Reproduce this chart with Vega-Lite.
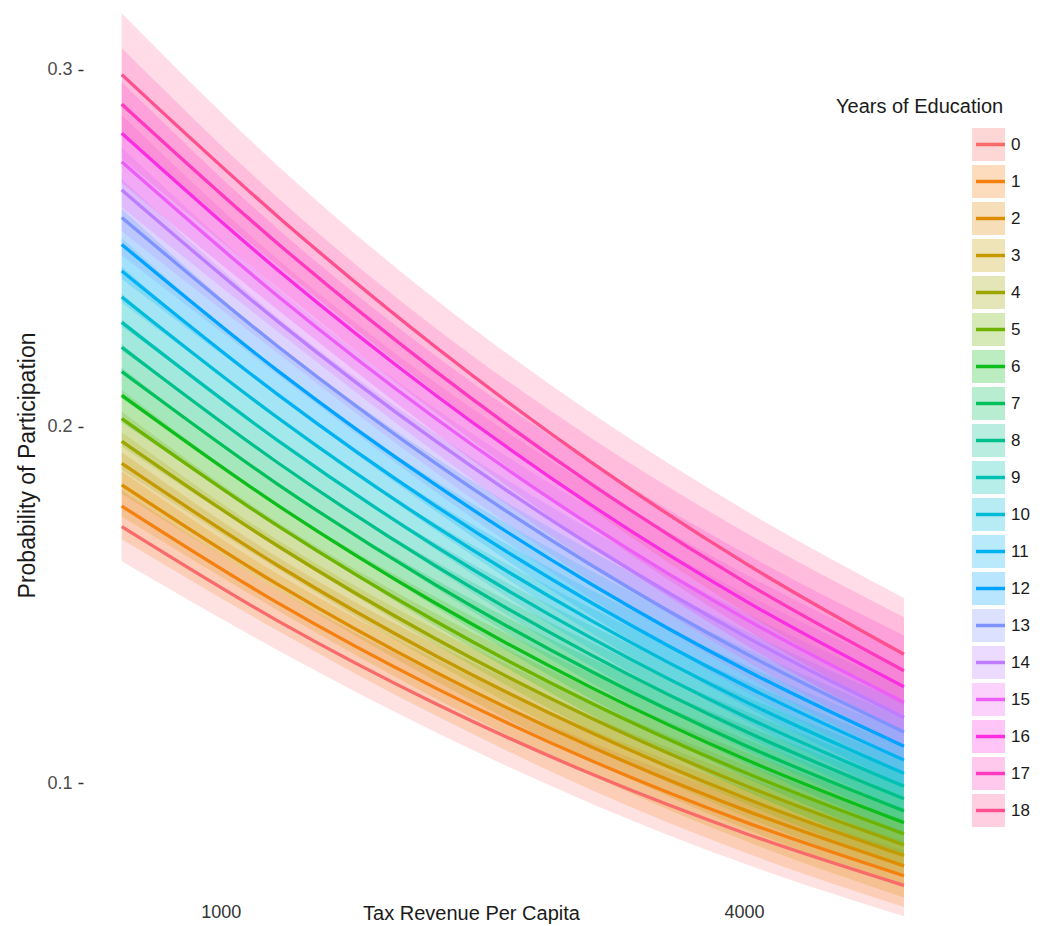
{
  "$schema": "https://vega.github.io/schema/vega-lite/v6.json",
  "width": 900,
  "height": 926,
  "autosize": {"type": "none"},
  "padding": {"left": 83, "top": 0, "right": 72, "bottom": 0},
  "background": "white",
  "config": {"view": {"stroke": null}, "font": "Liberation Sans"},
  "data": {"values": [
    {"t":433,"edu":0,"p":0.17195,"lo":0.16222,"hi":0.18214},{"t":1330,"edu":0,"p":0.14546,"lo":0.13724,"hi":0.15408},{"t":2227,"edu":0,"p":0.12245,"lo":0.11445,"hi":0.13093},{"t":3123,"edu":0,"p":0.10265,"lo":0.09435,"hi":0.11159},{"t":4020,"edu":0,"p":0.08573,"lo":0.07714,"hi":0.09518},{"t":4917,"edu":0,"p":0.07138,"lo":0.06272,"hi":0.08114},
    {"t":433,"edu":1,"p":0.1777,"lo":0.16841,"hi":0.18739},{"t":1330,"edu":1,"p":0.15049,"lo":0.14272,"hi":0.1586},{"t":2227,"edu":1,"p":0.12681,"lo":0.11911,"hi":0.13493},{"t":3123,"edu":1,"p":0.10638,"lo":0.09821,"hi":0.11515},{"t":4020,"edu":1,"p":0.08891,"lo":0.08032,"hi":0.09832},{"t":4917,"edu":1,"p":0.07407,"lo":0.06531,"hi":0.08391},
    {"t":433,"edu":2,"p":0.18361,"lo":0.17475,"hi":0.19281},{"t":1330,"edu":2,"p":0.15567,"lo":0.14836,"hi":0.16328},{"t":2227,"edu":2,"p":0.13129,"lo":0.1239,"hi":0.13905},{"t":3123,"edu":2,"p":0.11024,"lo":0.1022,"hi":0.11884},{"t":4020,"edu":2,"p":0.0922,"lo":0.0836,"hi":0.1016},{"t":4917,"edu":2,"p":0.07686,"lo":0.068,"hi":0.08678},
    {"t":433,"edu":3,"p":0.18966,"lo":0.18121,"hi":0.19841},{"t":1330,"edu":3,"p":0.16098,"lo":0.15411,"hi":0.16809},{"t":2227,"edu":3,"p":0.13591,"lo":0.12882,"hi":0.14332},{"t":3123,"edu":3,"p":0.11421,"lo":0.10629,"hi":0.12265},{"t":4020,"edu":3,"p":0.09559,"lo":0.08696,"hi":0.10498},{"t":4917,"edu":3,"p":0.07974,"lo":0.07075,"hi":0.08977},
    {"t":433,"edu":4,"p":0.19587,"lo":0.18778,"hi":0.20422},{"t":1330,"edu":4,"p":0.16644,"lo":0.16,"hi":0.17308},{"t":2227,"edu":4,"p":0.14066,"lo":0.13385,"hi":0.14775},{"t":3123,"edu":4,"p":0.11831,"lo":0.11048,"hi":0.12662},{"t":4020,"edu":4,"p":0.0991,"lo":0.09043,"hi":0.10851},{"t":4917,"edu":4,"p":0.08271,"lo":0.07359,"hi":0.09285},
    {"t":433,"edu":5,"p":0.20223,"lo":0.19443,"hi":0.21026},{"t":1330,"edu":5,"p":0.17205,"lo":0.16601,"hi":0.17827},{"t":2227,"edu":5,"p":0.14555,"lo":0.139,"hi":0.15236},{"t":3123,"edu":5,"p":0.12253,"lo":0.11476,"hi":0.13074},{"t":4020,"edu":5,"p":0.10272,"lo":0.09408,"hi":0.11218},{"t":4917,"edu":5,"p":0.08579,"lo":0.07652,"hi":0.09608},
    {"t":433,"edu":6,"p":0.20874,"lo":0.20113,"hi":0.21655},{"t":1330,"edu":6,"p":0.17781,"lo":0.17208,"hi":0.18368},{"t":2227,"edu":6,"p":0.15059,"lo":0.14423,"hi":0.15717},{"t":3123,"edu":6,"p":0.12689,"lo":0.11916,"hi":0.13504},{"t":4020,"edu":6,"p":0.10645,"lo":0.09762,"hi":0.11598},{"t":4917,"edu":6,"p":0.08897,"lo":0.07952,"hi":0.09942},
    {"t":433,"edu":7,"p":0.21541,"lo":0.20787,"hi":0.22315},{"t":1330,"edu":7,"p":0.18372,"lo":0.1782,"hi":0.18938},{"t":2227,"edu":7,"p":0.15576,"lo":0.14953,"hi":0.16221},{"t":3123,"edu":7,"p":0.13138,"lo":0.12363,"hi":0.13953},{"t":4020,"edu":7,"p":0.11031,"lo":0.10135,"hi":0.11995},{"t":4917,"edu":7,"p":0.09226,"lo":0.08261,"hi":0.10291},
    {"t":433,"edu":8,"p":0.22223,"lo":0.2146,"hi":0.23006},{"t":1330,"edu":8,"p":0.18978,"lo":0.18431,"hi":0.19537},{"t":2227,"edu":8,"p":0.16108,"lo":0.15487,"hi":0.16749},{"t":3123,"edu":8,"p":0.136,"lo":0.12818,"hi":0.14422},{"t":4020,"edu":8,"p":0.11428,"lo":0.10517,"hi":0.12407},{"t":4917,"edu":8,"p":0.09566,"lo":0.08578,"hi":0.10654},
    {"t":433,"edu":9,"p":0.2292,"lo":0.22131,"hi":0.23729},{"t":1330,"edu":9,"p":0.19599,"lo":0.1904,"hi":0.2017},{"t":2227,"edu":9,"p":0.16655,"lo":0.16026,"hi":0.17304},{"t":3123,"edu":9,"p":0.14075,"lo":0.13279,"hi":0.14911},{"t":4020,"edu":9,"p":0.11838,"lo":0.10906,"hi":0.12838},{"t":4917,"edu":9,"p":0.09916,"lo":0.08903,"hi":0.11031},
    {"t":433,"edu":10,"p":0.23633,"lo":0.228,"hi":0.24486},{"t":1330,"edu":10,"p":0.20235,"lo":0.19644,"hi":0.2084},{"t":2227,"edu":10,"p":0.17216,"lo":0.16564,"hi":0.17888},{"t":3123,"edu":10,"p":0.14565,"lo":0.13747,"hi":0.15423},{"t":4020,"edu":10,"p":0.12261,"lo":0.11304,"hi":0.13288},{"t":4917,"edu":10,"p":0.10279,"lo":0.09237,"hi":0.11425},
    {"t":433,"edu":11,"p":0.24361,"lo":0.23468,"hi":0.25276},{"t":1330,"edu":11,"p":0.20887,"lo":0.20244,"hi":0.21544},{"t":2227,"edu":11,"p":0.17792,"lo":0.17105,"hi":0.18501},{"t":3123,"edu":11,"p":0.15068,"lo":0.1422,"hi":0.15958},{"t":4020,"edu":11,"p":0.12697,"lo":0.11709,"hi":0.13755},{"t":4917,"edu":11,"p":0.10652,"lo":0.09578,"hi":0.11832},
    {"t":433,"edu":12,"p":0.25103,"lo":0.24135,"hi":0.26097},{"t":1330,"edu":12,"p":0.21554,"lo":0.20843,"hi":0.22283},{"t":2227,"edu":12,"p":0.18383,"lo":0.17645,"hi":0.19145},{"t":3123,"edu":12,"p":0.15586,"lo":0.14699,"hi":0.16517},{"t":4020,"edu":12,"p":0.13146,"lo":0.12121,"hi":0.14243},{"t":4917,"edu":12,"p":0.11038,"lo":0.09926,"hi":0.12258},
    {"t":433,"edu":13,"p":0.25861,"lo":0.24803,"hi":0.26948},{"t":1330,"edu":13,"p":0.22237,"lo":0.21442,"hi":0.23052},{"t":2227,"edu":13,"p":0.18989,"lo":0.18188,"hi":0.19816},{"t":3123,"edu":13,"p":0.16118,"lo":0.15183,"hi":0.17099},{"t":4020,"edu":13,"p":0.13608,"lo":0.12541,"hi":0.14751},{"t":4917,"edu":13,"p":0.11436,"lo":0.10283,"hi":0.12701},
    {"t":433,"edu":14,"p":0.26633,"lo":0.25473,"hi":0.27827},{"t":1330,"edu":14,"p":0.22934,"lo":0.22043,"hi":0.23851},{"t":2227,"edu":14,"p":0.19611,"lo":0.18735,"hi":0.20517},{"t":3123,"edu":14,"p":0.16665,"lo":0.15672,"hi":0.17708},{"t":4020,"edu":14,"p":0.14084,"lo":0.12967,"hi":0.15281},{"t":4917,"edu":14,"p":0.11847,"lo":0.10648,"hi":0.13162},
    {"t":433,"edu":15,"p":0.2742,"lo":0.26147,"hi":0.28731},{"t":1330,"edu":15,"p":0.23647,"lo":0.22648,"hi":0.24676},{"t":2227,"edu":15,"p":0.20247,"lo":0.19285,"hi":0.21245},{"t":3123,"edu":15,"p":0.17227,"lo":0.16168,"hi":0.1834},{"t":4020,"edu":15,"p":0.14574,"lo":0.13401,"hi":0.15831},{"t":4917,"edu":15,"p":0.1227,"lo":0.11019,"hi":0.13641},
    {"t":433,"edu":16,"p":0.28221,"lo":0.26826,"hi":0.2966},{"t":1330,"edu":16,"p":0.24375,"lo":0.2326,"hi":0.25526},{"t":2227,"edu":16,"p":0.20899,"lo":0.19841,"hi":0.21999},{"t":3123,"edu":16,"p":0.17803,"lo":0.16669,"hi":0.18997},{"t":4020,"edu":16,"p":0.15078,"lo":0.13843,"hi":0.16403},{"t":4917,"edu":16,"p":0.12706,"lo":0.11399,"hi":0.14139},
    {"t":433,"edu":17,"p":0.29037,"lo":0.27511,"hi":0.30611},{"t":1330,"edu":17,"p":0.25118,"lo":0.23877,"hi":0.26401},{"t":2227,"edu":17,"p":0.21567,"lo":0.20404,"hi":0.22778},{"t":3123,"edu":17,"p":0.18395,"lo":0.17177,"hi":0.19679},{"t":4020,"edu":17,"p":0.15596,"lo":0.14291,"hi":0.16997},{"t":4917,"edu":17,"p":0.13155,"lo":0.11786,"hi":0.14656},
    {"t":433,"edu":18,"p":0.29866,"lo":0.28203,"hi":0.31585},{"t":1330,"edu":18,"p":0.25876,"lo":0.24504,"hi":0.27298},{"t":2227,"edu":18,"p":0.22249,"lo":0.20972,"hi":0.2358},{"t":3123,"edu":18,"p":0.19001,"lo":0.17691,"hi":0.20385},{"t":4020,"edu":18,"p":0.16128,"lo":0.14746,"hi":0.17612},{"t":4917,"edu":18,"p":0.13617,"lo":0.12182,"hi":0.15192}
  ]},
  "layer": [
    {
      "mark": {"type": "area", "interpolate": "monotone", "fillOpacity": 0.2},
      "encoding": {
        "x": {"field": "t", "type": "quantitative",
          "scale": {"domain": [211, 5370], "nice": false, "zero": false},
          "axis": {"values": [1000, 4000], "format": "d", "grid": false, "domain": false, "ticks": false, "tickSize": 0,
            "offset": -26, "labelPadding": 3, "labelFontSize": 18, "labelColor": "#333333",
            "title": "Tax Revenue Per Capita", "titleFontSize": 20, "titleFontWeight": "normal", "titleColor": "#1A1A1A",
            "titleX": 388, "titleY": 3, "titleBaseline": "top", "titleAlign": "center"}},
        "y": {"field": "lo", "type": "quantitative",
          "scale": {"domain": [0.06, 0.31955], "nice": false, "zero": false},
          "title": "Probability of Participation",
          "axis": {"values": [0.1, 0.2, 0.3], "format": ".1f", "grid": false, "domain": false, "ticks": true,
            "tickSize": 5, "tickWidth": 1.5, "tickColor": "#333333", "labelPadding": 6, "labelFontSize": 18, "labelColor": "#4D4D4D",
            "titleFontSize": 23, "titleFontWeight": "normal", "titleColor": "#1A1A1A",
            "titleX": -49, "titleY": 465, "titleAngle": -90, "titleAlign": "center", "titleBaseline": "alphabetic"}},
        "y2": {"field": "hi"},
        "fill": {"field": "edu", "type": "ordinal", "title": "Years of Education",
          "scale": {"range": ["#F96B6B","#F4800F","#DE8C00","#C49A00","#9EA700","#6DB300","#0CBD1C","#00C05C","#00C08C","#00C1B2","#00BCD8","#00B2F2","#00A3FF","#7F93FF","#BE7CFF","#EC5EF6","#FA2EE0","#FF38C0","#FF4F8E"]},
          "legend": {"orient": "none", "legendX": 753, "legendY": 97, "titleFontSize": 20, "titleFontWeight": "normal", "titleColor": "#1A1A1A",
            "titlePadding": 11, "symbolType": "square", "symbolSize": 1089, "symbolStrokeWidth": 0, "symbolOpacity": 0.28,
            "symbolOffset": 136, "labelOffset": 6, "labelFontSize": 17, "labelColor": "#1A1A1A", "rowPadding": 4}}
      }
    },
    {
      "mark": {"type": "line", "interpolate": "monotone", "strokeWidth": 3.3},
      "encoding": {
        "x": {"field": "t", "type": "quantitative"},
        "y": {"field": "p", "type": "quantitative", "title": "Probability of Participation"},
        "stroke": {"field": "edu", "type": "ordinal", "title": null,
          "scale": {"domain": [0,1,2,3,4,5,6,7,8,9,10,11,12,13,14,15,16,17,18],
            "range": ["#F96B6B","#F4800F","#DE8C00","#C49A00","#9EA700","#6DB300","#0CBD1C","#00C05C","#00C08C","#00C1B2","#00BCD8","#00B2F2","#00A3FF","#7F93FF","#BE7CFF","#EC5EF6","#FA2EE0","#FF38C0","#FF4F8E"]},
          "legend": {"orient": "none", "legendX": 753, "legendY": 126, "title": null,
            "symbolType": "M-0.88,0H0.88", "symbolSize": 1089, "symbolStrokeWidth": 3.5,
            "symbolOffset": 136, "labelOffset": 6, "labelFontSize": 17, "labelExpr": "''", "rowPadding": 10}}
      }
    }
  ]
}
